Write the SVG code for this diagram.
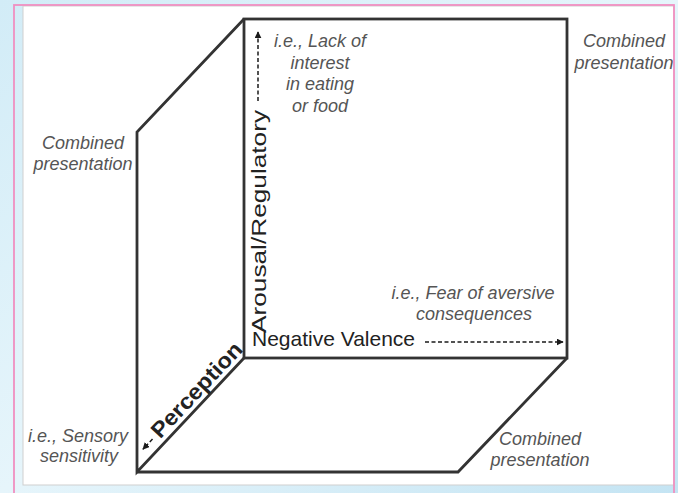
<svg xmlns="http://www.w3.org/2000/svg" width="678" height="493" viewBox="0 0 678 493">
  <defs>
    <linearGradient id="bg" x1="0" y1="0" x2="1" y2="1">
      <stop offset="0" stop-color="#d2ecf7"/>
      <stop offset="0.5" stop-color="#e6f5fb"/>
      <stop offset="1" stop-color="#c4e4f3"/>
    </linearGradient>
    <clipPath id="panel">
      <rect x="23" y="6" width="650" height="479"/>
    </clipPath>
    <marker id="ah" viewBox="0 0 10 10" refX="9" refY="5" markerWidth="7" markerHeight="7" markerUnits="userSpaceOnUse" orient="auto">
      <path d="M0,0 L10,5 L0,10 z" fill="#1a1a1a"/>
    </marker>
    <style>
      .edge { fill: none; stroke: #333; stroke-width: 2.8; stroke-linejoin: miter; }
      .note { font-family: "Liberation Sans", Arial, sans-serif; font-style: italic; font-size: 18px; fill: #555; text-anchor: middle; }
      .axis { font-family: "Liberation Sans", Arial, sans-serif; font-size: 21px; fill: #222; }
      .bold { font-family: "Liberation Sans", Arial, sans-serif; font-size: 22px; font-weight: bold; fill: #222; }
      .dash { fill: none; stroke: #1a1a1a; stroke-width: 1.5; stroke-dasharray: 4 2.5; }
    </style>
  </defs>

  <!-- background -->
  <rect x="0" y="0" width="678" height="493" fill="url(#bg)"/>
  <rect x="23" y="6" width="651" height="479" fill="#ffffff" stroke="#cfcfcf" stroke-width="1"/>
  <rect x="14" y="5" width="660" height="500" fill="none" stroke="#f08fc0" stroke-width="1.8"/>

  <!-- cube faces -->
  <g id="front-face">
    <rect class="edge" x="244" y="19" width="323" height="339"/>
  </g>
  <g id="left-face">
    <polyline class="edge" points="244,19 137,132 137,472 244,358"/>
  </g>
  <g id="bottom-face">
    <polyline class="edge" points="137,472 458,472 567,358"/>
  </g>

  <!-- connectors (axis arrows) -->
  <g id="connectors">
    <line class="dash" x1="258" y1="101" x2="258" y2="32" marker-end="url(#ah)"/>
    <line class="dash" x1="425" y1="342" x2="563" y2="342" marker-end="url(#ah)"/>
    <g transform="translate(138,472) rotate(-46.8)">
      <line class="dash" x1="34" y1="-12" x2="20" y2="-12" marker-end="url(#ah)"/>
    </g>
  </g>

  <!-- axis labels -->
  <g id="axis-arousal">
    <text class="axis" transform="translate(266,333) rotate(-90)" textLength="223" lengthAdjust="spacingAndGlyphs">Arousal/Regulatory</text>
  </g>
  <g id="axis-valence">
    <text class="axis" x="252" y="346">Negative Valence</text>
  </g>
  <g id="axis-perception">
    <text class="bold" transform="translate(138,472) rotate(-46.8)" x="39" y="-6" textLength="122" lengthAdjust="spacingAndGlyphs">Perception</text>
  </g>

  <!-- notes -->
  <g id="note-lack">
    <text class="note" x="320" y="47">i.e., Lack of</text>
    <text class="note" x="320" y="68.5">interest</text>
    <text class="note" x="320" y="90">in eating</text>
    <text class="note" x="320" y="111.5">or food</text>
  </g>
  <g id="note-fear">
    <text class="note" x="473" y="299">i.e., Fear of aversive</text>
    <text class="note" x="474" y="320">consequences</text>
  </g>
  <g id="note-sensory">
    <text class="note" x="78" y="442">i.e., Sensory</text>
    <text class="note" x="79" y="462">sensitivity</text>
  </g>
  <g id="combined-left">
    <text class="note" x="83" y="149">Combined</text>
    <text class="note" x="83" y="170">presentation</text>
  </g>
  <g id="combined-topright" clip-path="url(#panel)">
    <text class="note" x="624" y="47">Combined</text>
    <text class="note" x="624" y="69">presentation</text>
  </g>
  <g id="combined-bottomright">
    <text class="note" x="540" y="445">Combined</text>
    <text class="note" x="540" y="466">presentation</text>
  </g>
</svg>
